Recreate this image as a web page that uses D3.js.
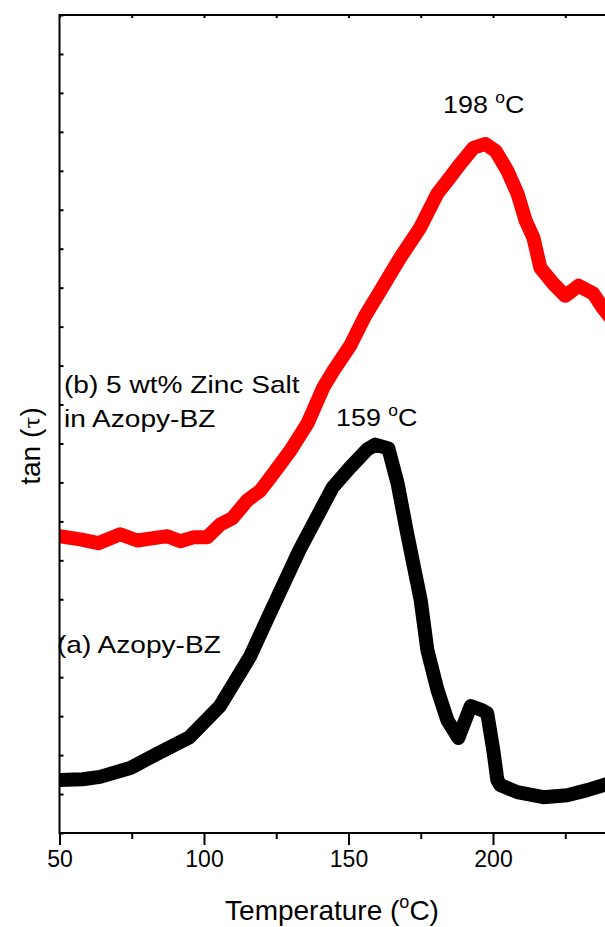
<!DOCTYPE html>
<html>
<head>
<meta charset="utf-8">
<script src="https://cdn.jsdelivr.net/npm/d3@7"></script>
<style>
  body { margin: 0; background: #fff; }
  svg { display: block; font-family: Arial, "Liberation Sans", sans-serif; }
</style>
</head>
<body>
<div id="container"></div>
<script>
const width = 605;
const height = 927;

// plot frame (right edge sits past the window, as in the reference)
const plotLeft = 59.5, plotTop = 15, plotRight = 637.5, plotBottom = 833;

// (a) Azopy-BZ, tan(tau) in arbitrary units
const tempA = [50, 58, 64, 74.5, 85, 95, 105.5, 116, 123, 133, 144.5, 150.5, 156.5, 159.3, 163.8, 167, 170.3, 173.8, 175, 177.3, 180.8, 184.2, 188, 192.3, 196.3, 198, 200.1, 201.5, 202.5, 208.4, 217.4, 225.7, 232.6, 238.2, 241];
const tanA = [1.36, 1.38, 1.44, 1.67, 2.08, 2.46, 3.26, 4.54, 5.67, 7.26, 8.87, 9.38, 9.85, 9.97, 9.87, 8.97, 7.69, 6.41, 5.97, 4.69, 3.67, 2.9, 2.44, 3.26, 3.15, 3.08, 2.13, 1.36, 1.23, 1.05, 0.92, 0.97, 1.1, 1.23, 1.3];

// (b) 5 wt% Zinc Salt in Azopy-BZ
const tempB = [50, 57.2, 63.4, 71, 76.9, 87.3, 91.8, 96.3, 101.1, 105.6, 109.8, 115, 119.5, 124, 129.9, 135.8, 141.3, 144.8, 150.6, 155.8, 161, 167.9, 174.8, 180.7, 184.2, 188.7, 193.2, 197.4, 200.9, 205, 208.5, 211.3, 214, 216.4, 220.9, 225, 229.6, 234.7, 237.9, 241];
const tanB = [7.62, 7.54, 7.44, 7.67, 7.51, 7.62, 7.49, 7.59, 7.59, 7.92, 8.08, 8.54, 8.79, 9.23, 9.82, 10.51, 11.44, 11.87, 12.51, 13.28, 13.92, 14.77, 15.54, 16.41, 16.74, 17.18, 17.59, 17.69, 17.51, 17.0, 16.41, 15.72, 15.28, 14.51, 14.1, 13.79, 14.05, 13.85, 13.49, 13.2];

const xMajor = [50, 100, 150, 200];
const xMinor = [75, 125, 175, 225];
const yTicks = d3.range(0, 22);

const svg = d3.select("#container")
  .append("svg")
  .attr("width", width)
  .attr("height", height);

const x = d3.scaleLinear().domain([50, 250]).range([plotLeft, plotRight]);
const y = d3.scaleLinear().domain([0, 21]).range([plotBottom, plotTop]);

svg.append("defs").append("clipPath").attr("id", "plot")
  .append("rect")
  .attr("x", plotLeft).attr("y", plotTop)
  .attr("width", plotRight - plotLeft).attr("height", plotBottom - plotTop);

const line = d3.line().x(d => x(d[0])).y(d => y(d[1]));

// curves
svg.append("path")
  .datum(tempA.map((t, i) => [t, tanA[i]]))
  .attr("clip-path", "url(#plot)")
  .attr("d", line)
  .attr("fill", "none")
  .attr("stroke", "#000")
  .attr("stroke-width", 14)
  .attr("stroke-linejoin", "round");

svg.append("path")
  .datum(tempB.map((t, i) => [t, tanB[i]]))
  .attr("clip-path", "url(#plot)")
  .attr("d", line)
  .attr("fill", "none")
  .attr("stroke", "#ff0000")
  .attr("stroke-width", 14)
  .attr("stroke-linejoin", "round")
  .attr("stroke-linecap", "round");

// axes
const styleAxis = g => {
  g.select(".domain").remove();
  g.selectAll(".tick line").attr("stroke", "#000").attr("stroke-width", 2);
};

svg.append("g")
  .attr("transform", `translate(0,${plotBottom})`)
  .call(d3.axisBottom(x).tickValues(xMajor).tickSize(12).tickPadding(6))
  .call(styleAxis)
  .call(g => g.selectAll(".tick text")
    .attr("font-size", 23)
    .attr("font-family", "Arial, 'Liberation Sans', sans-serif")
    .attr("fill", "#000"));

svg.append("g")
  .attr("transform", `translate(0,${plotBottom})`)
  .call(d3.axisBottom(x).tickValues(xMinor).tickSize(6).tickFormat(""))
  .call(styleAxis);

svg.append("g")
  .attr("transform", `translate(0,${plotTop})`)
  .call(d3.axisTop(x).tickValues(xMajor.concat(xMinor)).tickSize(-3).tickFormat(""))
  .call(styleAxis);

svg.append("g")
  .attr("transform", `translate(${plotLeft},0)`)
  .call(d3.axisLeft(y).tickValues(yTicks).tickSize(-4).tickFormat(""))
  .call(styleAxis);

// frame
svg.append("rect")
  .attr("x", plotLeft).attr("y", plotTop)
  .attr("width", plotRight - plotLeft).attr("height", plotBottom - plotTop)
  .attr("fill", "none")
  .attr("stroke", "#000")
  .attr("stroke-width", 2);

// labels (the reference text is a little wider than plain Arial)
const addText = (tx, ty, size, sx) => svg.append("text")
  .attr("transform", `translate(${tx},${ty}) scale(${sx},1)`)
  .attr("font-size", size)
  .attr("fill", "#000");

const degLabel = (tx, ty, size, num) => {
  const t = addText(tx, ty, size, 1.12);
  t.append("tspan").text(num + " ");
  t.append("tspan").attr("font-size", size * 0.65).attr("dy", -size * 0.42).text("o");
  t.append("tspan").attr("dy", size * 0.42).text("C");
  return t;
};

degLabel(443, 113, 24, "198");
degLabel(336, 426, 24, "159");

addText(64, 393, 24, 1.17).text("(b) 5 wt% Zinc Salt");
addText(64, 427, 24, 1.17).text("in Azopy-BZ");
addText(57, 653, 24, 1.17).text("(a) Azopy-BZ");

// x axis title
const xt = addText(332, 920, 28, 1).attr("text-anchor", "middle");
xt.append("tspan").text("Temperature (");
xt.append("tspan").attr("font-size", 18).attr("dy", -12).text("o");
xt.append("tspan").attr("dy", 12).text("C)");

// y axis title
const yt = svg.append("text")
  .attr("transform", "translate(40,446) rotate(-90)")
  .attr("text-anchor", "middle")
  .attr("font-size", 28)
  .attr("fill", "#000");
yt.append("tspan").text("tan (");
yt.append("tspan").attr("font-family", "'DejaVu Serif', serif").attr("font-size", 22).text("τ");
yt.append("tspan").text(")");
</script>
</body>
</html>
